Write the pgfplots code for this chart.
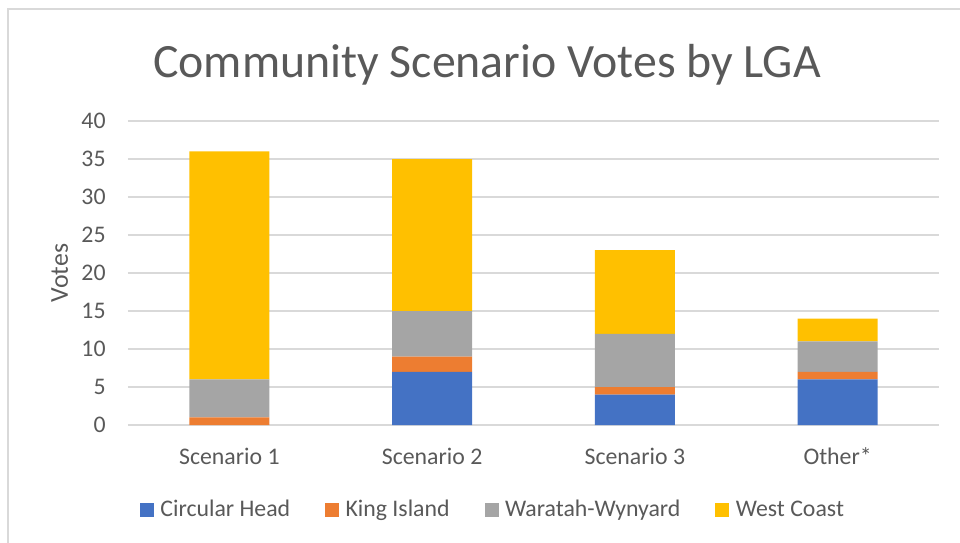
\documentclass[border=0pt]{standalone}
\usepackage{pgfplots}
\pgfplotsset{compat=1.18}
\usepackage{fontspec}
\setmainfont{Carlito}
\definecolor{cBlue}{HTML}{4472C4}
\definecolor{cOrange}{HTML}{ED7D31}
\definecolor{cGray}{HTML}{A5A5A5}
\definecolor{cGold}{HTML}{FFC000}
\definecolor{txt}{HTML}{595959}
\definecolor{grid}{HTML}{D9D9D9}
\begin{document}
\begin{tikzpicture}
\begin{axis}[
  scale only axis,
  width=405.5pt, height=152pt,
  ybar stacked,
  bar width=40pt,
  xmin=-0.5, xmax=3.5,
  ymin=0, ymax=40,
  ytick={0,5,...,40},
  xtick=data,
  xticklabels={Scenario 1,Scenario 2,Scenario 3,Other*},
  major tick length=0pt,
  ymajorgrids,
  grid style={draw=grid, line width=0.75pt},
  axis x line*=bottom,
  axis y line*=left,
  y axis line style={draw=none},
  x axis line style={draw=grid, line width=0.75pt, -},
  /pgf/number format/assume math mode=true,
  tick label style={font=\fontsize{11.9}{14}\selectfont, text=txt},
  yticklabel style={anchor=east, inner sep=0pt, xshift=-11pt},
  xticklabel style={anchor=base, inner sep=0pt, yshift=-19.5pt},
  legend columns=4,
  legend style={at={(axis description cs:0.4488,-0.2796)}, anchor=center, draw=none,
    font=\fontsize{11.9}{14}\selectfont, text=txt,
    /tikz/every even column/.append style={column sep=17.5pt},
    nodes={inner sep=0pt, outer sep=0pt}},
  legend image code/.code={\fill[#1,draw=none] (0pt,-3.5pt) rectangle (7pt,3.5pt);},
  legend cell align=left,
]
\addplot[fill=cBlue, draw=none] coordinates {(0,0) (1,7) (2,4) (3,6)};
\addlegendentry{\hspace{3.2pt}Circular Head}
\addplot[fill=cOrange, draw=none] coordinates {(0,1) (1,2) (2,1) (3,1)};
\addlegendentry{\hspace{3.2pt}King Island}
\addplot[fill=cGray, draw=none] coordinates {(0,5) (1,6) (2,7) (3,4)};
\addlegendentry{\hspace{3.2pt}Waratah-Wynyard}
\addplot[fill=cGold, draw=none] coordinates {(0,30) (1,20) (2,11) (3,3)};
\addlegendentry{\hspace{3.2pt}West Coast}
\end{axis}
\node[anchor=base, text=txt, font=\fontsize{23.9}{28}\selectfont] at (179.5pt,173.5pt) {Community Scenario Votes by LGA};
\node[anchor=base, rotate=90, text=txt, font=\fontsize{12.9}{15}\selectfont] at (-30pt,76pt) {Votes};
\draw[grid, line width=0.75pt] (-60pt,-60pt) -- (-60pt,208pt) -- (420pt,208pt);
\pgfresetboundingbox
\path[use as bounding box] (-64pt,-58.5pt) rectangle (416pt,212.5pt);
\end{tikzpicture}
\end{document}
